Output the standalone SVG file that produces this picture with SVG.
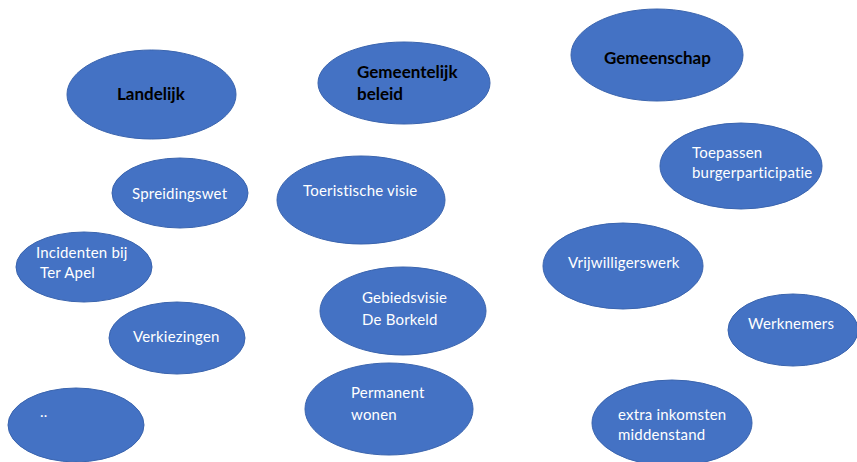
<svg xmlns="http://www.w3.org/2000/svg" width="857" height="462" viewBox="0 0 857 462">
<style>
.n{fill:#4472C4;stroke:#3A64AE;stroke-width:1}
.t{font-family:Lato,"Liberation Sans",sans-serif;font-size:15px;letter-spacing:0.2px;fill:#ffffff}
.h{font-family:Lato,"Liberation Sans",sans-serif;font-size:17px;font-weight:bold;fill:#000000}
</style>
<rect width="857" height="462" fill="#ffffff"/>
<g id="connectors"/>
<g id="landelijk"><ellipse class="n" cx="151.5" cy="94.5" rx="84.5" ry="44.5"/><text class="h" x="117" y="100">Landelijk</text></g>
<g id="spreidingswet"><ellipse class="n" cx="180" cy="193" rx="68" ry="35"/><text class="t" x="132" y="199">Spreidingswet</text></g>
<g id="incidenten"><ellipse class="n" cx="84" cy="267" rx="68" ry="35"/><text class="t" x="36" y="258">Incidenten bij</text><text class="t" x="40" y="278">Ter Apel</text></g>
<g id="verkiezingen"><ellipse class="n" cx="177" cy="338" rx="68" ry="36"/><text class="t" x="133" y="342">Verkiezingen</text></g>
<g id="dots"><ellipse class="n" cx="76" cy="425" rx="68" ry="37"/><text class="t" x="40" y="417">..</text></g>
<g id="gemeentelijk"><ellipse class="n" cx="404" cy="83" rx="86" ry="41"/><text class="h" x="357" y="78">Gemeentelijk</text><text class="h" x="357" y="100">beleid</text></g>
<g id="toeristische"><ellipse class="n" cx="361" cy="200" rx="84" ry="44"/><text class="t" x="303" y="196">Toeristische visie</text></g>
<g id="gebiedsvisie"><ellipse class="n" cx="403" cy="311" rx="83" ry="44"/><text class="t" x="362" y="303">Gebiedsvisie</text><text class="t" x="362" y="325">De Borkeld</text></g>
<g id="permanent"><ellipse class="n" cx="389" cy="409" rx="84" ry="46"/><text class="t" x="351" y="398">Permanent</text><text class="t" x="351" y="420">wonen</text></g>
<g id="gemeenschap"><ellipse class="n" cx="657" cy="55" rx="86" ry="46"/><text class="h" x="604" y="64">Gemeenschap</text></g>
<g id="toepassen"><ellipse class="n" cx="741" cy="166" rx="81" ry="43"/><text class="t" x="692" y="158">Toepassen</text><text class="t" x="692" y="178">burgerparticipatie</text></g>
<g id="vrijwilligerswerk"><ellipse class="n" cx="623" cy="266" rx="80" ry="43"/><text class="t" x="568" y="268">Vrijwilligerswerk</text></g>
<g id="werknemers"><ellipse class="n" cx="793" cy="330" rx="65" ry="36"/><text class="t" x="748" y="329">Werknemers</text></g>
<g id="extra"><ellipse class="n" cx="672" cy="423" rx="80" ry="43"/><text class="t" x="618" y="420">extra inkomsten</text><text class="t" x="618" y="440">middenstand</text></g>
</svg>
